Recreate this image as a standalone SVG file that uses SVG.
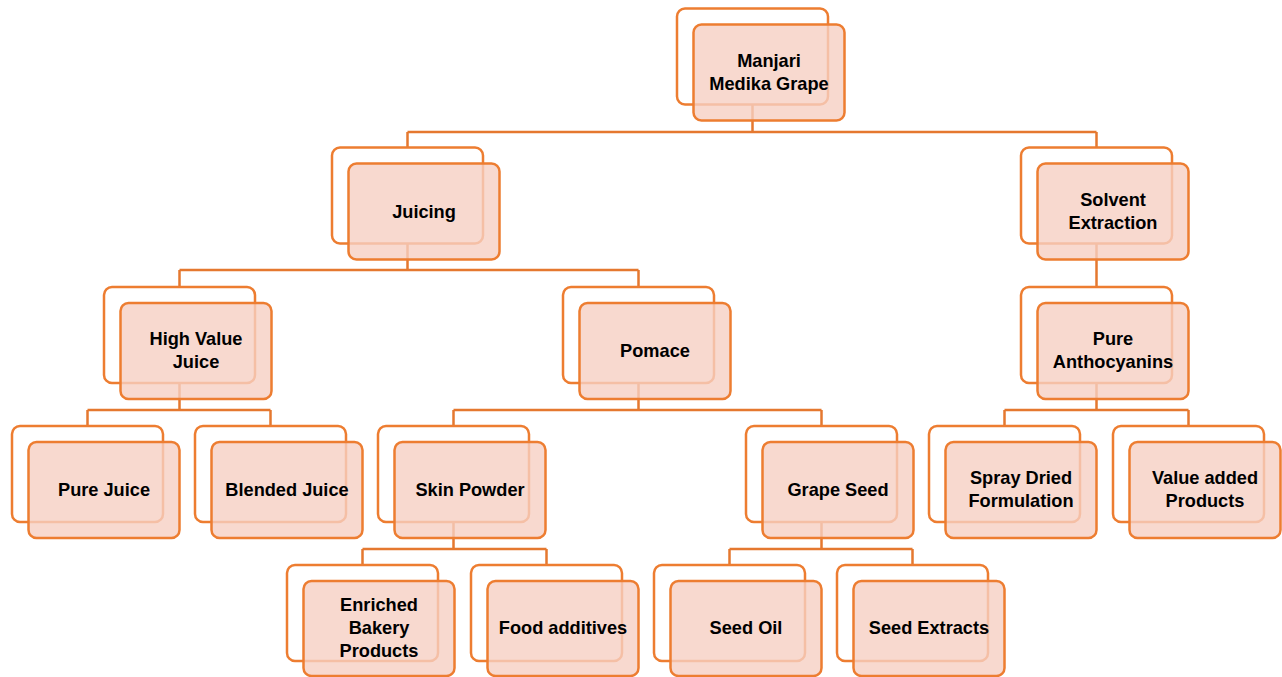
<svg xmlns="http://www.w3.org/2000/svg" width="1282" height="677" viewBox="0 0 1282 677">
<style>
.bg{fill:#ffffff}
.back{fill:none;stroke:#ED7D31;stroke-width:2.5}
.front{fill:#F6CFC3;fill-opacity:0.8;stroke:#ED7D31;stroke-width:2.5}
.c{fill:none;stroke:#E5782F;stroke-width:2.5}
text{font-family:"Liberation Sans",Arial,sans-serif;font-weight:bold;font-size:18.2px;fill:#000;text-anchor:middle}
</style>
<rect class="bg" x="0" y="0" width="1282" height="677"/>
<g id="connectors">
<path class="c" d="M752.5,104.5V132M407.5,132H1096.5M407.5,132V147.5M1096.5,132V147.5"/>
<path class="c" d="M407.5,243.5V270M179.5,270H638.5M179.5,270V287M638.5,270V287"/>
<path class="c" d="M1096.5,243.5V287"/>
<path class="c" d="M179.5,383V410M87.5,410H270.5M87.5,410V426M270.5,410V426"/>
<path class="c" d="M638.5,383V410M453.5,410H821.5M453.5,410V426M821.5,410V426"/>
<path class="c" d="M1096.5,383V410M1004.5,410H1188.5M1004.5,410V426M1188.5,410V426"/>
<path class="c" d="M453.5,522V549M362.5,549H546.5M362.5,549V565M546.5,549V565"/>
<path class="c" d="M821.5,522V549M729.5,549H912.5M729.5,549V565M912.5,549V565"/>
</g>
<g id="n-manjari">
<rect class="back" x="677" y="8.5" width="151" height="96" rx="8"/>
<rect class="front" x="693.5" y="24.5" width="151" height="96" rx="8"/>
<text x="769" y="67">Manjari</text>
<text x="769" y="90">Medika Grape</text>
</g>
<g id="n-juicing">
<rect class="back" x="332" y="147.5" width="151" height="96" rx="8"/>
<rect class="front" x="348.5" y="163.5" width="151" height="96" rx="8"/>
<text x="424" y="217.5">Juicing</text>
</g>
<g id="n-solvent">
<rect class="back" x="1021" y="147.5" width="151" height="96" rx="8"/>
<rect class="front" x="1037.5" y="163.5" width="151" height="96" rx="8"/>
<text x="1113" y="205.5">Solvent</text>
<text x="1113" y="228.5">Extraction</text>
</g>
<g id="n-highvalue">
<rect class="back" x="104" y="287" width="151" height="96" rx="8"/>
<rect class="front" x="120.5" y="303" width="151" height="96" rx="8"/>
<text x="196" y="345">High Value</text>
<text x="196" y="368">Juice</text>
</g>
<g id="n-pomace">
<rect class="back" x="563" y="287" width="151" height="96" rx="8"/>
<rect class="front" x="579.5" y="303" width="151" height="96" rx="8"/>
<text x="655" y="357">Pomace</text>
</g>
<g id="n-anthocyanins">
<rect class="back" x="1021" y="287" width="151" height="96" rx="8"/>
<rect class="front" x="1037.5" y="303" width="151" height="96" rx="8"/>
<text x="1113" y="345">Pure</text>
<text x="1113" y="368">Anthocyanins</text>
</g>
<g id="n-purejuice">
<rect class="back" x="12" y="426" width="151" height="96" rx="8"/>
<rect class="front" x="28.5" y="442" width="151" height="96" rx="8"/>
<text x="104" y="496">Pure Juice</text>
</g>
<g id="n-blended">
<rect class="back" x="195" y="426" width="151" height="96" rx="8"/>
<rect class="front" x="211.5" y="442" width="151" height="96" rx="8"/>
<text x="287" y="496">Blended Juice</text>
</g>
<g id="n-skin">
<rect class="back" x="378" y="426" width="151" height="96" rx="8"/>
<rect class="front" x="394.5" y="442" width="151" height="96" rx="8"/>
<text x="470" y="496">Skin Powder</text>
</g>
<g id="n-grapeseed">
<rect class="back" x="746" y="426" width="151" height="96" rx="8"/>
<rect class="front" x="762.5" y="442" width="151" height="96" rx="8"/>
<text x="838" y="496">Grape Seed</text>
</g>
<g id="n-spray">
<rect class="back" x="929" y="426" width="151" height="96" rx="8"/>
<rect class="front" x="945.5" y="442" width="151" height="96" rx="8"/>
<text x="1021" y="484">Spray Dried</text>
<text x="1021" y="507">Formulation</text>
</g>
<g id="n-valueadded">
<rect class="back" x="1113" y="426" width="151" height="96" rx="8"/>
<rect class="front" x="1129.5" y="442" width="151" height="96" rx="8"/>
<text x="1205" y="484">Value added</text>
<text x="1205" y="507">Products</text>
</g>
<g id="n-enriched">
<rect class="back" x="287" y="565" width="151" height="96" rx="8"/>
<rect class="front" x="303.5" y="581" width="151" height="95" rx="8"/>
<text x="379" y="611">Enriched</text>
<text x="379" y="634">Bakery</text>
<text x="379" y="657">Products</text>
</g>
<g id="n-food">
<rect class="back" x="471" y="565" width="151" height="96" rx="8"/>
<rect class="front" x="487.5" y="581" width="151" height="95" rx="8"/>
<text x="563" y="634">Food additives</text>
</g>
<g id="n-seedoil">
<rect class="back" x="654" y="565" width="151" height="96" rx="8"/>
<rect class="front" x="670.5" y="581" width="151" height="95" rx="8"/>
<text x="746" y="634">Seed Oil</text>
</g>
<g id="n-seedextracts">
<rect class="back" x="837" y="565" width="151" height="96" rx="8"/>
<rect class="front" x="853.5" y="581" width="151" height="95" rx="8"/>
<text x="929" y="634">Seed Extracts</text>
</g>
</svg>
